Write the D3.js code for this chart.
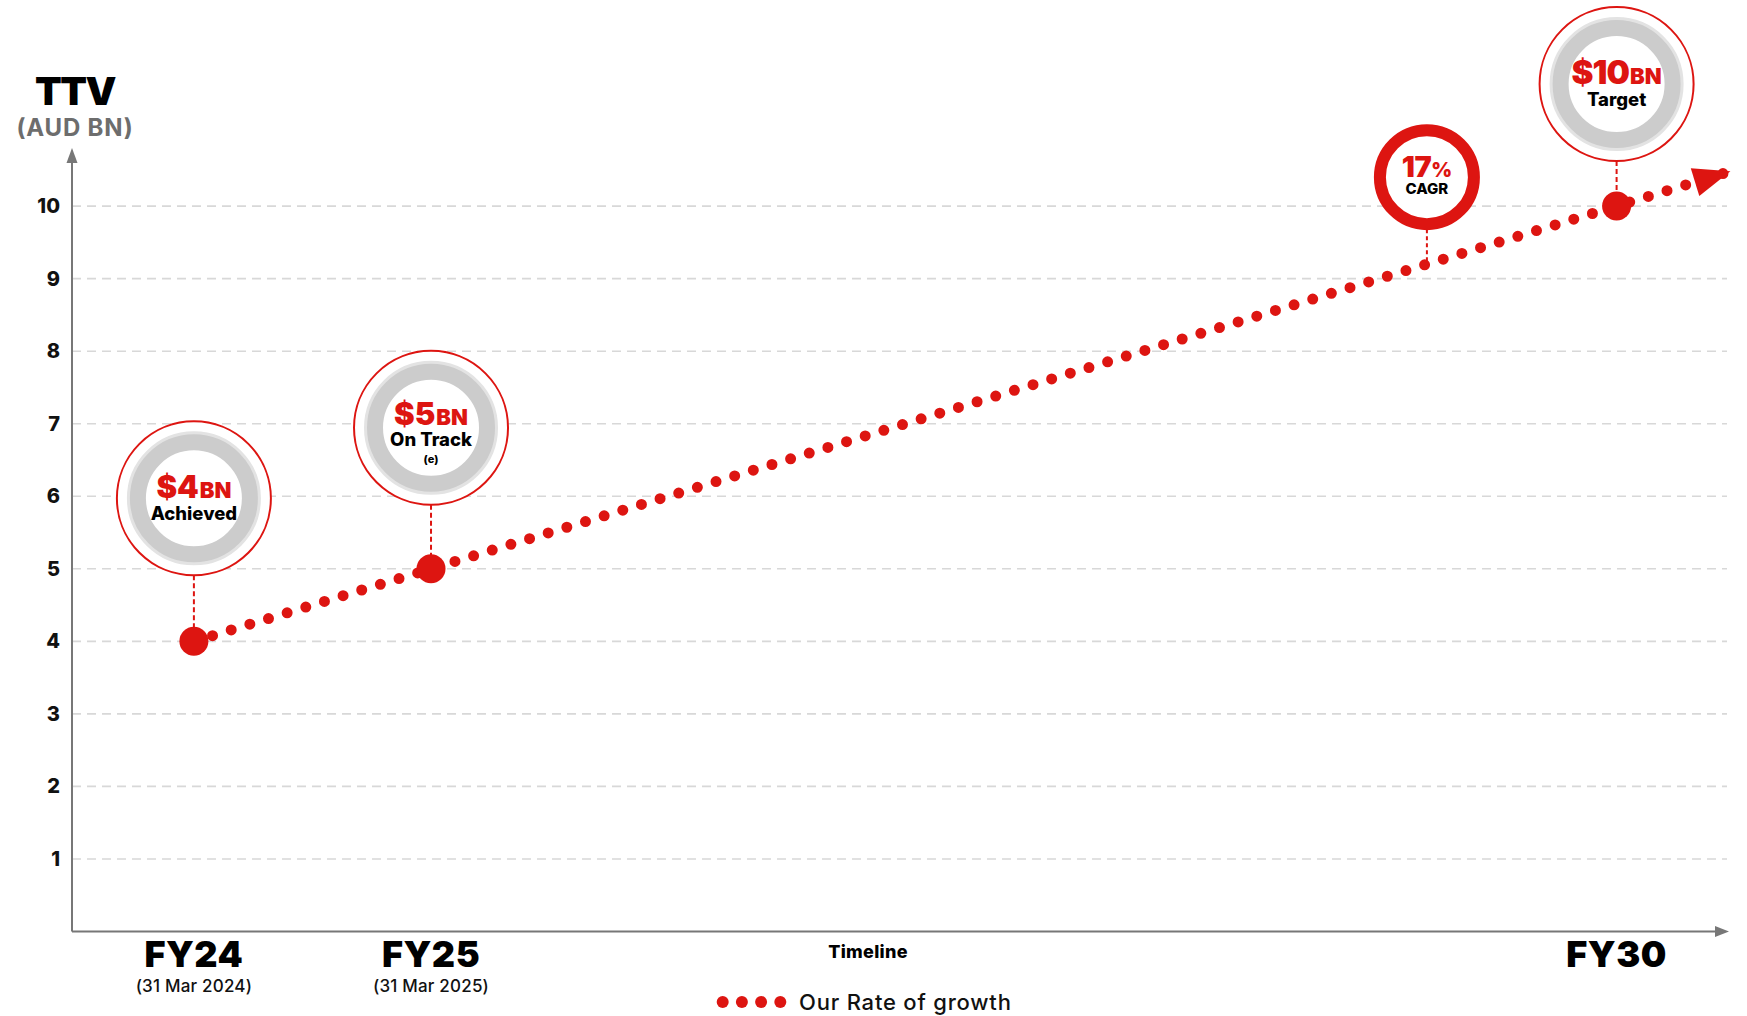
<!DOCTYPE html>
<html>
<head>
<meta charset="utf-8">
<script src="https://cdn.jsdelivr.net/npm/d3@7"></script>
<style>
  body { margin: 0; background: #fff; }
  svg { display: block; }
  text { font-family: Inter, "Open Sans", "DejaVu Sans", sans-serif; }
</style>
</head>
<body>
<svg id="chart" width="1747" height="1016"></svg>
<script>
// ---- data ----
const yTicks = [1, 2, 3, 4, 5, 6, 7, 8, 9, 10];
const periodLabels = ["FY24", "FY25", "FY30"];
const periodYears = [2024, 2025, 2030];
const periodDates = ["(31 Mar 2024)", "(31 Mar 2025)", ""];
const ttvValues = [4, 5, 10];
const badgeAmounts = ["$4", "$5", "$10"];
const badgeNotes = ["Achieved", "On Track", "Target"];
const badgeFootnotes = ["", "(e)", ""];
// growth path: milestones plus the projection beyond FY30
const growthYears = [2024, 2025, 2030, 2030.48];
const growthValues = [4, 5, 10, 10.48];
const cagrYear = 2029.2;
const cagrValue = 9.2;
const cagrRate = "17";

// ---- layout ----
const RED = "#dd1511";
const axisX = 72, axisEndX = 1729;
const svg = d3.select("#chart");

const x = d3.scaleLinear().domain([2024, 2030]).range([193.9, 1616.6]);
const y = d3.scaleLinear().domain([0, 10]).range([931.5, 206.1]);

// gridlines
svg.append("g").selectAll("line").data(yTicks).join("line")
  .attr("x1", axisX).attr("x2", 1727)
  .attr("y1", d => y(d)).attr("y2", d => y(d))
  .attr("stroke", "#d8d8d8").attr("stroke-width", 1.6)
  .attr("stroke-dasharray", "9,6");

// y tick labels via d3 axis
const yAxis = svg.append("g")
  .attr("transform", `translate(${axisX},0)`)
  .call(d3.axisLeft(y).tickValues(yTicks).tickSize(0).tickPadding(12).tickFormat(d3.format("d")));
yAxis.select(".domain").remove();
yAxis.selectAll("text")
  .attr("font-size", 20).attr("font-weight", 800).attr("fill", "#111")
  .style("font-family", "Inter, 'Open Sans', sans-serif");

// axis lines with arrowheads
const axisColor = "#777";
svg.append("line").attr("x1", axisX).attr("x2", axisX).attr("y1", y(0)).attr("y2", 160)
  .attr("stroke", axisColor).attr("stroke-width", 2);
svg.append("path").attr("d", `M${axisX},148 L${axisX - 5.5},163 L${axisX + 5.5},163 Z`).attr("fill", axisColor);
svg.append("line").attr("x1", axisX).attr("x2", axisEndX - 10).attr("y1", y(0)).attr("y2", y(0))
  .attr("stroke", axisColor).attr("stroke-width", 2);
svg.append("path").attr("d", `M${axisEndX},${y(0)} L${axisEndX - 14},${y(0) - 5.5} L${axisEndX - 14},${y(0) + 5.5} Z`).attr("fill", axisColor);

// y title
svg.append("text").attr("x", 75).attr("y", 105).attr("text-anchor", "middle")
  .attr("font-size", 39).attr("font-weight", 900).attr("letter-spacing", -1.5).attr("fill", "#000").text("TTV");
svg.append("text").attr("x", 75).attr("y", 136).attr("text-anchor", "middle")
  .attr("font-size", 24).attr("font-weight", 700).attr("letter-spacing", 0.8).attr("fill", "#6d6d6d").text("(AUD BN)");

// x labels
const xl = svg.append("g");
xl.selectAll("text.fy").data(periodLabels).join("text").attr("class", "fy")
  .attr("x", (d, i) => x(periodYears[i])).attr("y", 967)
  .attr("text-anchor", "middle").attr("font-size", 36).attr("font-weight", 900)
  .attr("letter-spacing", 0.5).attr("fill", "#000").text(d => d);
xl.selectAll("text.dt").data(periodDates).join("text").attr("class", "dt")
  .attr("x", (d, i) => x(periodYears[i])).attr("y", 992)
  .attr("text-anchor", "middle").attr("font-size", 17).attr("font-weight", 500)
  .attr("letter-spacing", 0.2).attr("fill", "#111").text(d => d);
svg.append("text").attr("x", 868).attr("y", 958).attr("text-anchor", "middle")
  .attr("font-size", 18).attr("font-weight", 800).attr("letter-spacing", 0.3).attr("fill", "#000").text("Timeline");

// dotted growth line
const pts = growthYears.map((yr, i) => [x(yr), y(growthValues[i])]);
svg.append("path")
  .attr("d", d3.line()(pts))
  .attr("fill", "none").attr("stroke", RED).attr("stroke-width", 11)
  .attr("stroke-linecap", "round").attr("stroke-dasharray", "0,19.5");

// arrowhead at the end of the projection
const tip = pts[pts.length - 1], prev = pts[pts.length - 2];
const ang = Math.atan2(tip[1] - prev[1], tip[0] - prev[0]);
svg.append("path")
  .attr("d", "M0,0 L-37,-14.5 L-37,14.5 Z")
  .attr("transform", `translate(${tip[0]},${tip[1]}) rotate(${ang * 180 / Math.PI})`)
  .attr("fill", RED);

// connector + badge for each milestone
const badgeLift = [143, 141, 122];
periodYears.forEach((yr, i) => {
  const cx = x(yr), cy = y(ttvValues[i]) - badgeLift[i];
  svg.append("line").attr("x1", cx).attr("x2", cx).attr("y1", cy + 77).attr("y2", y(ttvValues[i]))
    .attr("stroke", RED).attr("stroke-width", 2).attr("stroke-dasharray", "5,3");
  const g = svg.append("g").attr("transform", `translate(${cx},${cy})`);
  g.append("circle").attr("r", 77).attr("fill", "#fff").attr("stroke", RED).attr("stroke-width", 2);
  g.append("circle").attr("r", 65).attr("fill", "none").attr("stroke", "#e3e3e3").attr("stroke-width", 4);
  g.append("circle").attr("r", 56).attr("fill", "#fff").attr("stroke", "#cccccc").attr("stroke-width", 16);
  const hasFoot = badgeFootnotes[i] !== "";
  const t = g.append("text").attr("y", hasFoot ? -3 : 0).attr("text-anchor", "middle")
    .attr("fill", RED).attr("font-weight", 900);
  t.append("tspan").attr("font-size", i === 2 ? 33 : 31).attr("letter-spacing", i === 2 ? -1 : 0).text(badgeAmounts[i]);
  t.append("tspan").attr("font-size", 22).attr("dx", 1).text("BN");
  g.append("text").attr("y", hasFoot ? 18.5 : 22).attr("text-anchor", "middle")
    .attr("font-size", 18.5).attr("font-weight", 800).attr("fill", "#000").text(badgeNotes[i]);
  if (hasFoot) {
    g.append("text").attr("y", 35).attr("text-anchor", "middle")
      .attr("font-size", 11).attr("font-weight", 800).attr("fill", "#000").text(badgeFootnotes[i]);
  }
  svg.append("circle").attr("cx", cx).attr("cy", y(ttvValues[i])).attr("r", 14.5).attr("fill", RED);
});

// CAGR marker
{
  const cx = x(cagrYear), cy = y(cagrValue) - 87;
  svg.append("line").attr("x1", cx).attr("x2", cx).attr("y1", cy + 52).attr("y2", y(cagrValue))
    .attr("stroke", RED).attr("stroke-width", 2).attr("stroke-dasharray", "4,3");
  const g = svg.append("g").attr("transform", `translate(${cx},${cy})`);
  g.append("circle").attr("r", 47).attr("fill", "#fff").attr("stroke", RED).attr("stroke-width", 12);
  const t = g.append("text").attr("y", 0).attr("text-anchor", "middle").attr("fill", RED).attr("font-weight", 900);
  t.append("tspan").attr("font-size", 29).attr("letter-spacing", -0.5).text(cagrRate);
  t.append("tspan").attr("font-size", 20).text("%");
  g.append("text").attr("y", 17).attr("text-anchor", "middle").attr("font-size", 15)
    .attr("font-weight", 800).attr("fill", "#000").text("CAGR");
}

// legend
const lg = svg.append("g");
lg.selectAll("circle").data(d3.range(4)).join("circle")
  .attr("cx", d => 722.7 + d * 19.2).attr("cy", 1002).attr("r", 6).attr("fill", RED);
lg.append("text").attr("x", 799).attr("y", 1010).attr("font-size", 22).attr("font-weight", 500)
  .attr("letter-spacing", 0.8).attr("fill", "#111").text("Our Rate of growth");
</script>
</body>
</html>
